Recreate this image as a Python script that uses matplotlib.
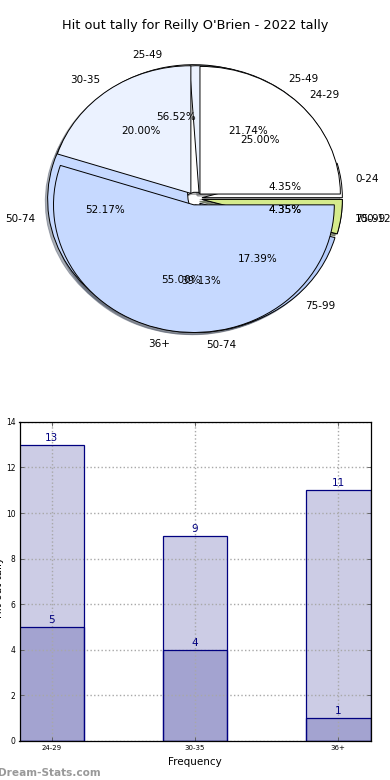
import matplotlib
matplotlib.use("Agg")
import matplotlib.pyplot as plt
import numpy as np

# ---- data ----
pie_a_labels = ["25-49", "50-74", "75-99"]
pie_a_values = [13, 9, 1]
pie_b_labels = ["0-24", "25-49", "50-74", "75-99", "100-124"]
pie_b_values = [1, 5, 12, 4, 1]
pie_c_labels = ["24-29", "30-35", "36+"]
pie_c_values = [5, 4, 11]

bar_categories = ["24-29", "30-35", "36+"]
bar_total = [13, 9, 11]
bar_part = [5, 4, 1]

title = "Hit out tally for Reilly O'Brien - 2022 tally"

colors = ["#FFFFFF", "#EBF2FF", "#C6D9FF", "#B5CCFA", "#D5EB8C"]

fig = plt.figure(figsize=(3.9, 7.8), dpi=100)
fig.subplots_adjust(left=0.05, right=0.95, bottom=0.05, top=0.95, hspace=0.2)
ax1 = fig.add_subplot(2, 1, 1)
ax2 = fig.add_subplot(2, 1, 2)

# ---- overlapping pies ----
for labels, values in [(pie_a_labels, pie_a_values),
                       (pie_b_labels, pie_b_values),
                       (pie_c_labels, pie_c_values)]:
    ax1.pie(values, labels=labels, colors=colors[:len(values)],
            explode=[0.05] * len(values),
            shadow={'ox': -0.012, 'oy': -0.012, 'shade': 0.55},
            autopct='%.2f%%', startangle=0, counterclock=True,
            wedgeprops={'edgecolor': 'black', 'linewidth': 0.7},
            textprops={'fontsize': 7.5})
ax1.set_aspect('auto')
ax1.set_xlim(-1.25, 1.25)
ax1.set_ylim(-1.25, 1.25)
ax1.set_title(title, fontsize=9.3, pad=7)

# ---- bars ----
x = np.arange(len(bar_categories))
w = 0.45
fc = (0, 0, 0.5, 0.2)
for vals in (bar_total, bar_part):
    ax2.bar(x, vals, width=w, color=fc, linewidth=0, zorder=1)
for vals in (bar_total, bar_part):
    ax2.bar(x, vals, width=w, fill=False, edgecolor='navy', linewidth=0.9, zorder=2)
for xi, v in zip(x, bar_total):
    ax2.annotate(str(v), (xi, v), xytext=(0, 1.5), textcoords='offset points',
                 ha='center', va='bottom', fontsize=7.5, color='#000080', zorder=4)
for xi, v in zip(x, bar_part):
    ax2.annotate(str(v), (xi, v), xytext=(0, 1.5), textcoords='offset points',
                 ha='center', va='bottom', fontsize=7.5, color='#000080', zorder=4)

ax2.set_xlim(-w / 2, len(x) - 1 + w / 2)
ax2.set_ylim(0, 14)
ax2.set_yticks(np.arange(0, 15, 2))
ax2.set_xticks(x)
ax2.set_xticklabels(bar_categories)
ax2.tick_params(axis='both', direction='in', top=True, right=True, length=3,
                color='#555555', width=0.6)
ax2.tick_params(axis='x', labelsize=5, pad=3)
ax2.tick_params(axis='y', labelsize=5.5, pad=3)
ax2.set_axisbelow('line')
ax2.grid(True, linestyle=':', color='#a8a8a8', linewidth=1.0)
ax2.set_xlabel('Frequency', fontsize=7.5, labelpad=4)
ax2.set_ylabel('Hit out tally', fontsize=7.5)
ax2.yaxis.set_label_coords(-0.045, 0.48)
for s in ax2.spines.values():
    s.set_linewidth(0.9)
    s.set_zorder(3)

fig.text(-0.006, 0.003, 'Dream-Stats.com', fontsize=7.6, fontweight='bold',
         color='#999999', ha='left', va='bottom')

fig.savefig('out.png', dpi=100)
